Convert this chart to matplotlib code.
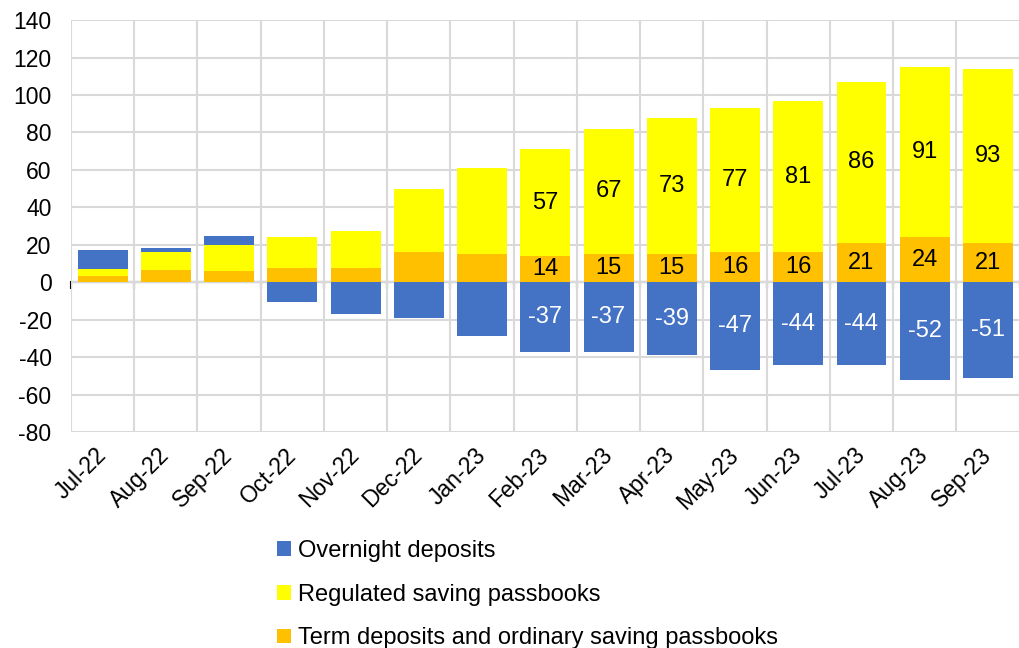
import matplotlib.pyplot as plt
import numpy as np

plt.rcParams['font.family'] = ['Liberation Sans', 'DejaVu Sans']
plt.rcParams['axes.unicode_minus'] = False

months = ['Jul-22', 'Aug-22', 'Sep-22', 'Oct-22', 'Nov-22', 'Dec-22', 'Jan-23',
          'Feb-23', 'Mar-23', 'Apr-23', 'May-23', 'Jun-23', 'Jul-23', 'Aug-23', 'Sep-23']
overnight = [10.5, 2.5, 4.5, -10.7, -17, -19, -28.7,
             -37, -37, -39, -47, -44, -44, -52, -51]
regulated = [3.5, 9.5, 14, 16.6, 19.6, 33.5, 46,
             57, 67, 73, 77, 81, 86, 91, 93]
term = [3.5, 6.6, 6.2, 7.8, 7.8, 16.2, 15.2,
        14, 15, 15, 16, 16, 21, 24, 21]
first_labelled = 7  # labels only from Feb-23

c_blue = '#4472C4'
c_yellow = '#FFFF00'
c_orange = '#FFC000'

x = np.arange(len(months))
term = np.array(term)
regulated = np.array(regulated)
overnight = np.array(overnight)
blue_bottom = np.where(overnight > 0, term + regulated, 0)

fig = plt.figure(figsize=(10.2, 6.48), dpi=100)
ax = fig.add_axes([0.0696, 0.333, 0.93, 0.636])

w = 0.79
b_term = ax.bar(x, term, w, color=c_orange, label='Term deposits and ordinary saving passbooks', zorder=3)
b_reg = ax.bar(x, regulated, w, bottom=term, color=c_yellow, label='Regulated saving passbooks', zorder=3)
b_on = ax.bar(x, overnight, w, bottom=blue_bottom, color=c_blue, label='Overnight deposits', zorder=3)

def lbls(vals):
    return ['%d' % round(v) if i >= first_labelled else '' for i, v in enumerate(vals)]

ax.bar_label(b_term, labels=lbls(term), label_type='center', fontsize=17, color='black')
ax.bar_label(b_reg, labels=lbls(regulated), label_type='center', fontsize=17, color='black')
ax.bar_label(b_on, labels=lbls(overnight), label_type='center', fontsize=17, color='white')

ax.set_xlim(-0.5, len(months) - 0.5)
ax.set_ylim(-80, 140)
ax.set_yticks(np.arange(-80, 141, 20))
ax.set_xticks(x)
ax.set_xticklabels(months, rotation=45, ha='right', va='center', rotation_mode='anchor')
ax.set_xticks(np.arange(-0.5, len(months), 1), minor=True)
ax.tick_params(axis='x', which='both', length=0, labelsize=16.5, pad=14)
ax.tick_params(axis='y', length=0, labelsize=16.5, pad=14)

ax.grid(axis='y', which='major', color='#d9d9d9', linewidth=1.5, zorder=0)
ax.grid(axis='x', which='minor', color='#d9d9d9', linewidth=1.5, zorder=0)
for s in ax.spines.values():
    s.set_visible(False)

# zero line with tick marks between categories
zero_pos = (0 - (-80)) / (140 - (-80))
sec = ax.secondary_xaxis(zero_pos)
sec.set_xticks(np.arange(-0.5, len(months), 1))
sec.set_xticklabels([])
sec.tick_params(length=5, width=1.5, color='black', direction='out')
sec.spines['bottom'].set_color('black')
sec.spines['bottom'].set_linewidth(1.5)
sec.spines['bottom'].set_zorder(4)

handles = [b_on, b_reg, b_term]
fig.legend(handles, [h.get_label() for h in handles], loc='upper left',
           bbox_to_anchor=(0.272, 0.167), frameon=False, fontsize=17,
           handlelength=0.58, handleheight=0.58, handletextpad=0.3,
           labelspacing=0.92, borderaxespad=0, borderpad=0)

fig.savefig('out.png', dpi=100)
